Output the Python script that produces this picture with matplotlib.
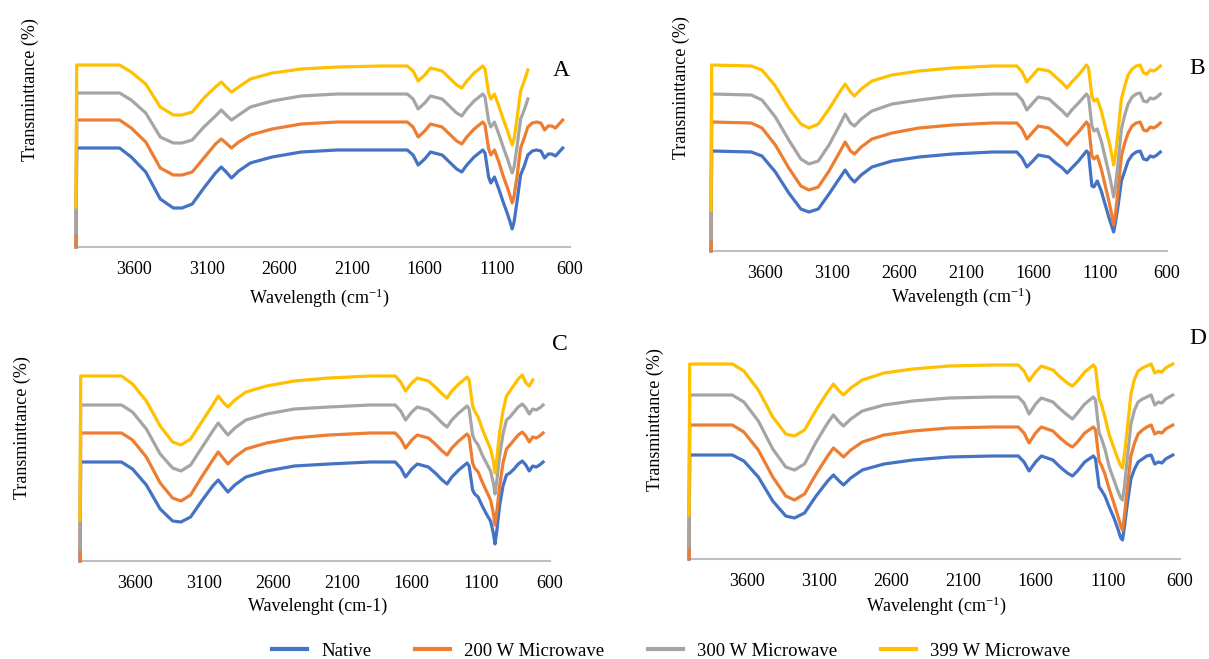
"""FTIR spectra of native and microwave-treated samples, four panels."""
# %% Imports
import matplotlib

matplotlib.use("Agg")
import matplotlib.pyplot as plt
from matplotlib.lines import Line2D

plt.rcParams["font.family"] = ["Liberation Serif", "DejaVu Serif"]
plt.rcParams["mathtext.fontset"] = "stix"

# %% Data (wavenumber grid shared by all series; values are relative transmittance)
wavenumber = [4000, 3995, 3700, 3620, 3520, 3420, 3330, 3270, 3200, 3120,
              3040, 3000, 2960, 2930, 2880, 2800, 2650, 2450, 2200, 1900,
              1720, 1680, 1645, 1600, 1560, 1480, 1430, 1380, 1345, 1310,
              1260, 1200, 1185, 1160, 1145, 1120, 1090, 1060, 1030, 1010,
              998, 985, 965, 940, 915, 890, 860, 830, 800, 775,
              750, 725, 700, 675, 650]

series_names = ["Native", "200 W Microwave", "300 W Microwave", "399 W Microwave"]
panel_letters = ["A", "B", "C", "D"]
x_ticks = [3600, 3100, 2600, 2100, 1600, 1100, 600]

# Panel A
a_native = [0, 99, 99, 90, 75, 48, 39, 39, 43, 59, 74, 80, 74, 69, 76, 84, 90, 95, 97, 97,
            97, 92, 82, 88, 95, 92, 85, 78, 75, 82, 90, 97, 94, 70, 64, 70, 58, 45, 33, 24,
            18, 25, 45, 72, 81, 92, 96, 97, 96, 89, 93, 93, 91, 95, 99]
a_200 = [0, 127, 127, 119, 105, 79, 72, 72, 75, 89, 103, 108, 103, 99, 105, 112, 118, 123, 125, 125,
         125, 120, 110, 116, 123, 120, 113, 106, 103, 110, 118, 125, 122, 98, 92, 97, 85, 71, 59, 50,
         44, 51, 70, 99, 109, 120, 124, 125, 124, 117, 121, 121, 119, 123, 127]
a_300 = [14, 154, 154, 147, 134, 110, 104, 104, 107, 120, 131, 137, 131, 127, 132, 140, 146, 151, 153, 153,
         153, 148, 138, 144, 151, 148, 141, 134, 131, 138, 146, 153, 150, 126, 120, 125, 113, 100, 88, 79,
         74, 80, 100, 128, 137, 148]
a_399 = [40, 182, 182, 175, 163, 140, 132, 132, 135, 149, 160, 165, 159, 155, 160, 168, 174, 178, 180, 181,
         181, 176, 166, 172, 179, 176, 169, 162, 159, 166, 174, 181, 178, 154, 148, 153, 141, 128, 116, 107,
         102, 108, 128, 156, 166, 177]

# Panel B
b_native = [0, 100, 99, 95, 79, 58, 42, 39, 42, 57, 73, 81, 73, 69, 76, 84, 90, 94, 97, 99,
            99, 93, 84, 90, 96, 94, 88, 83, 78, 83, 90, 100, 98, 65, 64, 70, 60, 46, 32, 24,
            19, 28, 45, 70, 80, 90, 96, 99, 100, 92, 91, 95, 94, 96, 99]
b_200 = [0, 129, 128, 123, 106, 83, 65, 61, 64, 80, 99, 109, 100, 97, 104, 112, 118, 123, 126, 128,
         128, 122, 112, 119, 125, 123, 117, 111, 106, 112, 119, 129, 126, 95, 92, 95, 82, 65, 48, 35,
         26, 36, 60, 95, 108, 118, 125, 128, 129, 121, 120, 124, 123, 125, 128]
b_300 = [12, 157, 156, 151, 134, 111, 92, 87, 90, 106, 126, 137, 128, 125, 132, 140, 147, 151, 155, 157,
         157, 151, 141, 148, 154, 152, 146, 140, 135, 141, 148, 157, 154, 125, 120, 122, 110, 93, 76, 63,
         54, 64, 88, 122, 136, 147, 154, 157, 158, 150, 149, 153, 152, 154, 157]
b_399 = [41, 186, 185, 181, 165, 143, 127, 123, 127, 142, 159, 167, 159, 155, 162, 170, 176, 180, 183, 185,
         185, 179, 169, 176, 182, 180, 174, 168, 163, 169, 176, 186, 183, 155, 150, 152, 140, 124, 108, 95,
         86, 96, 119, 152, 165, 176, 182, 185, 186, 178, 177, 181, 180, 182, 185]

# Panel C
c_native = [0, 99, 99, 92, 76, 52, 40, 39, 44, 60, 75, 81, 74, 69, 76, 84, 90, 95, 97, 99,
            99, 93, 84, 92, 97, 94, 88, 81, 77, 84, 91, 98, 95, 71, 67, 64, 55, 47, 40, 28,
            17, 30, 55, 75, 86, 88, 92, 97, 100, 96, 90, 95, 94, 96, 99]
c_200 = [0, 128, 128, 121, 104, 78, 63, 60, 66, 84, 101, 109, 102, 97, 104, 112, 118, 123, 126, 128,
         128, 122, 113, 121, 126, 123, 117, 110, 106, 113, 120, 127, 124, 98, 93, 89, 79, 70, 61, 48,
         36, 49, 74, 98, 112, 116, 121, 126, 129, 125, 119, 124, 123, 125, 128]
c_300 = [12, 156, 156, 149, 132, 107, 93, 90, 96, 113, 130, 138, 131, 126, 133, 141, 147, 152, 154, 156,
         156, 150, 141, 149, 154, 151, 145, 138, 134, 141, 148, 155, 152, 126, 121, 116, 106, 98, 90, 78,
         67, 80, 105, 127, 141, 144, 149, 154, 157, 153, 147, 152, 151, 153, 156]
c_399 = [41, 185, 185, 177, 160, 135, 119, 116, 122, 139, 156, 165, 158, 154, 161, 169, 175, 180, 183, 185,
         185, 179, 170, 178, 183, 180, 174, 167, 163, 170, 177, 184, 181, 155, 150, 144, 132, 122, 112, 100,
         88, 102, 128, 150, 165, 170, 176, 182, 186, 178, 175, 181]

# Panel D
d_native = [0, 104, 104, 98, 82, 58, 43, 41, 46, 63, 78, 84, 78, 74, 81, 89, 95, 99, 102, 103,
            103, 97, 88, 97, 103, 99, 92, 86, 83, 88, 97, 103, 100, 72, 69, 63, 52, 42, 30, 21,
            19, 32, 55, 80, 90, 97, 100, 103, 104, 95, 97, 96, 100, 102, 104]
d_200 = [0, 134, 134, 127, 109, 82, 63, 59, 65, 85, 103, 111, 106, 102, 109, 117, 124, 128, 131, 132,
         132, 126, 116, 126, 132, 128, 121, 115, 112, 117, 126, 132, 129, 98, 94, 85, 70, 57, 43, 33,
         29, 43, 70, 103, 116, 125, 129, 132, 134, 125, 127, 126, 130, 132, 134]
d_300 = [13, 164, 164, 157, 138, 110, 92, 89, 95, 117, 136, 144, 137, 133, 140, 148, 154, 158, 161, 162,
         162, 156, 145, 155, 161, 157, 150, 144, 140, 146, 155, 162, 159, 126, 121, 110, 92, 80, 68, 61,
         59, 72, 100, 135, 149, 157, 160, 162, 164, 154, 157, 156, 160, 162, 164]
d_399 = [44, 195, 195, 188, 169, 142, 125, 123, 129, 149, 167, 175, 168, 164, 171, 179, 186, 190, 193, 194,
         194, 188, 178, 187, 193, 189, 182, 176, 173, 178, 187, 194, 191, 160, 155, 142, 124, 112, 100, 93,
         91, 104, 130, 165, 180, 188, 191, 193, 195, 186, 188, 187, 191, 193, 195]

panel_data = [
    [a_native, a_200, a_300, a_399],
    [b_native, b_200, b_300, b_399],
    [c_native, c_200, c_300, c_399],
    [d_native, d_200, d_300, d_399],
]
x_titles = [
    r"Wavelength (cm$^{\mathregular{-1}}$)",
    r"Wavelength (cm$^{\mathregular{-1}}$)",
    "Wavelenght (cm-1)",
    r"Wavelenght (cm$^{\mathregular{-1}}$)",
]

# %% Layout (pixel boxes: left, right, bottom) and styling
W, H = 1209, 659
colors = ["#4472C4", "#ED7D31", "#A5A5A5", "#FFC000"]
boxes = [(76, 570, 247), (711, 1167, 251), (80, 550, 561), (689, 1180, 559)]
ylabel_pos = [(30, 90), (681, 88), (22, 428), (655, 420)]
xlabel_pos = [(320, 298), (962, 297), (318, 606), (937, 606)]
letter_pos = [(561, 70), (1197, 68), (560, 345), (1198, 338)]
AX_H = 200  # axes height in pixels, y-limits match it

fig = plt.figure(figsize=(W / 100, H / 100), dpi=100)

for k in range(4):
    left, right, bottom = boxes[k]
    ax = fig.add_axes([left / W, (H - bottom) / H, (right - left) / W, AX_H / H])
    for vals, col in zip(panel_data[k], colors):
        ax.plot(wavenumber[: len(vals)], vals, color=col, lw=2.3, clip_on=False,
                solid_joinstyle="round")
    ax.set_xlim(4000, 600)
    ax.set_ylim(0, AX_H)
    ax.set_xticks(x_ticks)
    ax.set_yticks([])
    ax.tick_params(axis="x", length=0, pad=10, labelsize=13, colors="black")
    for side in ["left", "right", "top"]:
        ax.spines[side].set_visible(False)
    ax.spines["bottom"].set_color("#BFBFBF")
    ax.spines["bottom"].set_linewidth(1.5)
    ax.spines["bottom"].set_zorder(0)

    fig.text(ylabel_pos[k][0] / W, 1 - ylabel_pos[k][1] / H, "Transminttance (%)",
             rotation=90, ha="center", va="center", fontsize=13)
    fig.text(xlabel_pos[k][0] / W, 1 - xlabel_pos[k][1] / H, x_titles[k],
             ha="center", va="center", fontsize=13)
    fig.text(letter_pos[k][0] / W, 1 - letter_pos[k][1] / H, panel_letters[k],
             ha="center", va="center", fontsize=17)

handles = [Line2D([], [], color=c, lw=3) for c in colors]
fig.legend(handles, series_names, loc="center", bbox_to_anchor=(671 / W, 1 - 651 / H),
           ncol=4, frameon=False, fontsize=13.5, handlelength=1.9, handletextpad=0.75,
           columnspacing=2.3)

fig.savefig("out.png", dpi=100)
